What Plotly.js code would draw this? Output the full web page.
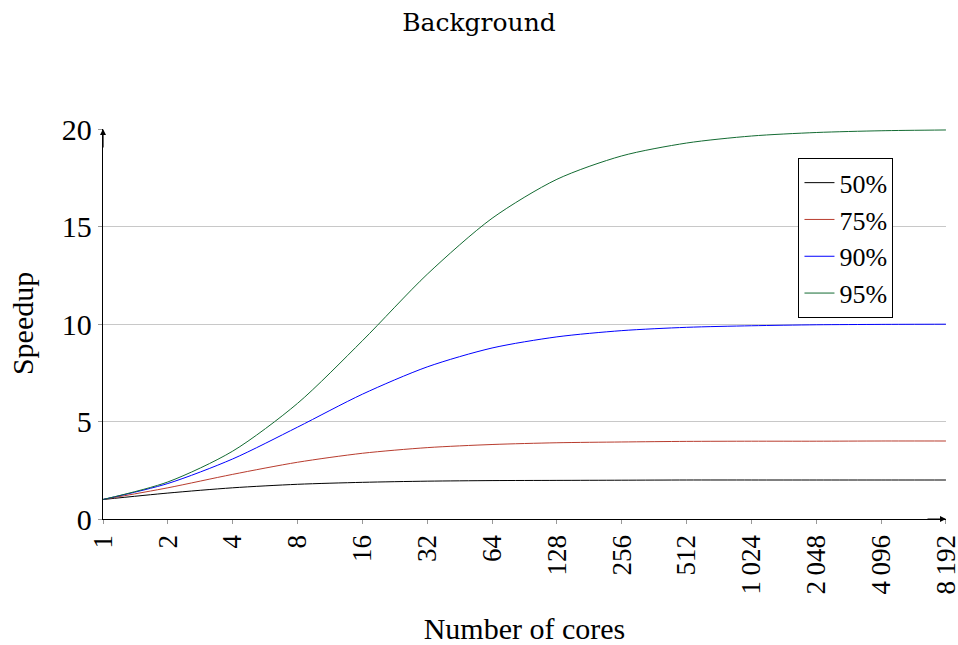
<!DOCTYPE html>
<html><head><meta charset="utf-8">
<script src="https://cdn.plot.ly/plotly-3.0.1.min.js"></script>
<style>html,body{margin:0;padding:0;background:#fff}#c{width:958px;height:645px}</style>
</head><body><div id="c"></div>
<script>
const cores = [1,2,4,8,16,32,64,128,256,512,1024,2048,4096,8192];
const tickLabels = ["1","2","4","8","16","32","64","128","256","512","1\u2009024","2\u2009048","4\u2009096","8\u2009192"];
const s50 = [1,1.33,1.6,1.78,1.88,1.94,1.97,1.98,1.99,2.0,2.0,2.0,2.0,2.0];
const s75 = [1,1.6,2.29,2.91,3.37,3.66,3.82,3.91,3.95,3.98,3.99,3.99,4.0,4.0];
const s90 = [1,1.82,3.08,4.71,6.4,7.8,8.77,9.34,9.66,9.83,9.91,9.96,9.98,9.99];
const s95 = [1,1.9,3.48,5.93,9.14,12.55,15.42,17.42,18.62,19.28,19.64,19.82,19.91,19.95];
const names = ["50%","75%","90%","95%"];
const colors = ["#000000","#b83c2e","#0000ff","#136b32"];
const series = [s50,s75,s90,s95];
const F = "'Liberation Serif', serif";
const traces = series.map((s,i)=>({x:cores,y:s,name:names[i],type:"scatter",mode:"lines",
  line:{color:colors[i],width:1,shape:"spline",smoothing:0.8}}));
const layout = {
  width:958,height:645,margin:{l:103,r:12,t:129,b:126},
  paper_bgcolor:"#fff",plot_bgcolor:"#fff",
  title:{text:"Background",font:{family:"'DejaVu Serif', serif",size:25,color:"#000"},x:0.5,xref:"container",xanchor:"center",y:0.966,yanchor:"middle",yref:"container"},
  font:{family:F,color:"#000"},
  xaxis:{type:"log",range:[0,3.9136],tickvals:cores,ticktext:tickLabels,tickangle:-90,ticklabeloverflow:"allow",
    tickfont:{family:F,size:27},ticks:"outside",ticklen:4,tickcolor:"#999",showgrid:false,zeroline:false,
    showline:true,linecolor:"#000",linewidth:1.2,
    title:{text:"Number of cores",font:{family:F,size:30},standoff:24}},
  yaxis:{range:[0,20],tickvals:[0,5,10,15,20],tickfont:{family:F,size:30},ticks:"outside",ticklen:4,tickcolor:"#999",
    showgrid:true,gridcolor:"#c8c8c8",gridwidth:1,zeroline:false,showline:true,linecolor:"#000",linewidth:1.2},
  legend:{x:0.825,y:0.925,xanchor:"left",yanchor:"top",bordercolor:"#000",borderwidth:1,bgcolor:"#fff",
    font:{family:F,size:26},itemwidth:30,tracegroupgap:0},
  showlegend:true,
  annotations:[
    {xref:"paper",yref:"paper",x:-0.096,y:0.5,xanchor:"center",yanchor:"middle",textangle:-90,showarrow:false,
     text:"Speedup",font:{family:F,size:30,color:"#000"}},
    {xref:"paper",yref:"paper",x:1,y:0,ax:-20,ay:0,showarrow:true,arrowhead:2,arrowsize:1,arrowwidth:1.2,arrowcolor:"#000",text:""},
    {xref:"paper",yref:"paper",x:0,y:1,ax:0,ay:20,showarrow:true,arrowhead:2,arrowsize:1,arrowwidth:1.2,arrowcolor:"#000",text:""}
  ]
};
Plotly.newPlot("c",traces,layout,{displayModeBar:false,staticPlot:true});
</script></body></html>
